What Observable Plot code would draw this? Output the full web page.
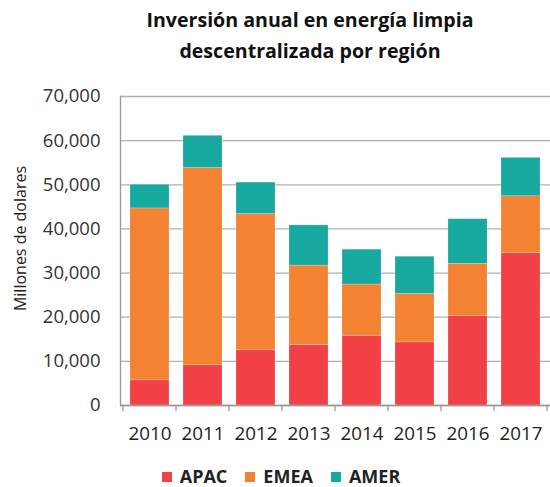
<!DOCTYPE html>
<html>
<head>
<meta charset="utf-8">
<script src="https://cdn.jsdelivr.net/npm/d3@7"></script>
<script src="https://cdn.jsdelivr.net/npm/@observablehq/plot@0.6"></script>
<style>
  body { margin: 0; background: #fff; font-family: "Open Sans", sans-serif; }
  #wrap { width: 550px; height: 487px; position: relative; overflow: hidden; }
  #title { position: absolute; left: 70px; right: 0; top: 4px; text-align: center; font-weight: bold; font-size: 19.6px; line-height: 31px; color: #111; }
  #chart { position: absolute; left: 0; top: 75px; }
  #legend { position: absolute; left: 0; top: 467px; width: 562px; text-align: center; font-weight: bold; font-size: 18px; line-height: 19px; color: #222; }
  #legend span.item { margin: 0 9px; white-space: nowrap; }
  #legend span.sw { display: inline-block; width: 10px; height: 10px; margin-right: 8px; vertical-align: 1px; }
</style>
</head>
<body>
<div id="wrap">
  <div id="title">Inversión anual en energía limpia<br>descentralizada por región</div>
  <div id="chart"></div>
  <div id="legend"></div>
</div>
<script>
const years = ["2010","2011","2012","2013","2014","2015","2016","2017"];
const seriesNames = ["APAC","EMEA","AMER"];
const seriesColors = ["#F14046","#F38233","#17A89F"];
const apac = [5700, 9100, 12500, 13700, 15800, 14300, 20300, 34500];
const emea = [38950, 44700, 30900, 18000, 11600, 11000, 11800, 12900];
const amer = [5350, 7300, 7100, 9100, 7900, 8400, 10100, 8700];
const yTicks = [0, 10000, 20000, 30000, 40000, 50000, 60000, 70000];

const values = {APAC: apac, EMEA: emea, AMER: amer};
const data = [];
seriesNames.forEach(s => years.forEach((y, i) => data.push({year: y, region: s, value: values[s][i]})));

const fmt = d => d === 0 ? "0" : d3.format(",")(d);

const plot = Plot.plot({
  width: 550,
  height: 380,
  marginTop: 21,
  marginBottom: 50,
  marginLeft: 120,
  marginRight: 0,
  style: {fontFamily: "Open Sans, sans-serif", fontSize: "17px", color: "#333", background: "transparent"},
  x: {domain: years, paddingInner: 0.27, paddingOuter: 0.135, label: null},
  y: {domain: [0, 70000], label: null},
  color: {domain: seriesNames, range: seriesColors},
  marks: [
    Plot.gridY(yTicks, {stroke: "#b0b0b0", strokeOpacity: 1, strokeWidth: 1.3}),
    Plot.barY(data, {x: "year", y: "value", fill: "region", order: seriesNames, stroke: "#fff", strokeOpacity: 0.35, strokeWidth: 0.6}),
    Plot.axisY(yTicks, {tickFormat: fmt, tickSize: 0, tickPadding: 20, fontSize: 18.5, fill: "#333"}),
    Plot.axisX({tickSize: 0, tickPadding: 21, fontSize: 18.8, fill: "#222"}),
    Plot.frame({anchor: "left", stroke: "#999", strokeWidth: 1.3}),
    Plot.ruleY([0], {stroke: "#999", strokeWidth: 1.3})
  ]
});

// band-boundary tick marks beneath the x axis, from the library's x scale
(function () {
  const xs = plot.scale("x");
  const ys = plot.scale("y");
  const y0 = ys.apply(0);
  const svg = d3.select(plot);
  const g = svg.append("g").attr("stroke", "#999").attr("stroke-width", 1.3);
  const step = xs.step;
  const bounds = years.map(y => xs.apply(y) - (step - xs.bandwidth) / 2);
  bounds.push(xs.apply(years[years.length - 1]) + xs.bandwidth + (step - xs.bandwidth) / 2);
  bounds.forEach(b => g.append("line").attr("x1", b).attr("x2", b).attr("y1", y0).attr("y2", y0 + 6));
  // y axis title
  const yMid = (ys.apply(0) + ys.apply(70000)) / 2 - 12;
  svg.append("text")
    .attr("transform", `translate(22,${yMid}) rotate(-90)`)
    .attr("text-anchor", "middle").attr("dominant-baseline", "middle")
    .attr("font-size", 16).attr("fill", "#222")
    .text("Millones de dolares");
})();

document.getElementById("chart").appendChild(plot);

const legend = document.getElementById("legend");
seriesNames.forEach((s, i) => {
  const item = document.createElement("span");
  item.className = "item";
  const sw = document.createElement("span");
  sw.className = "sw";
  sw.style.background = seriesColors[i];
  item.appendChild(sw);
  item.appendChild(document.createTextNode(s));
  legend.appendChild(item);
});
</script>
</body>
</html>
